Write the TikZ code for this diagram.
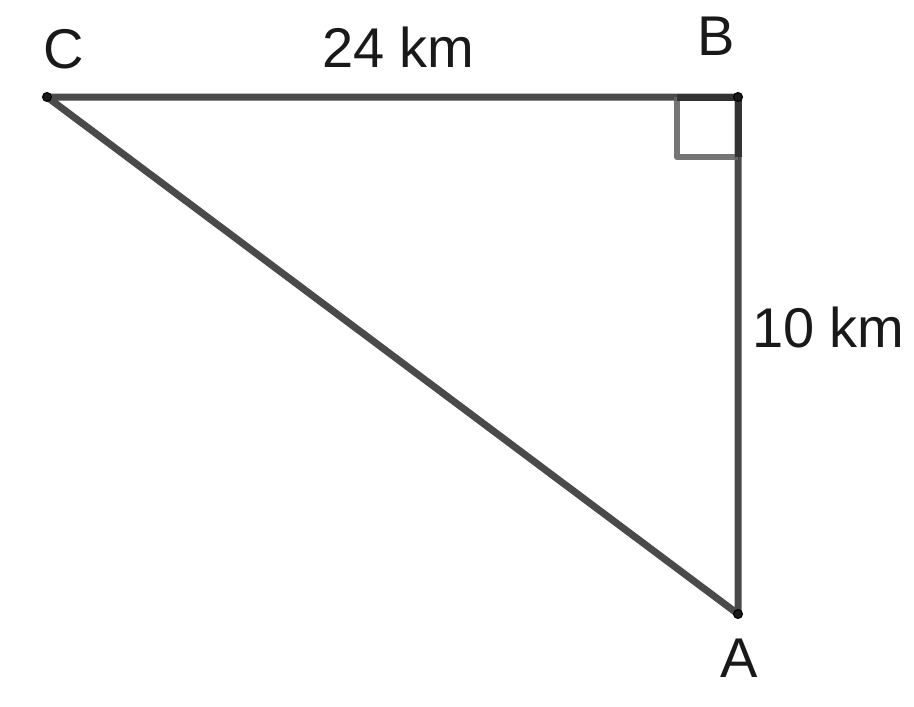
\documentclass[tikz,border=0pt]{standalone}
\usepackage{fontspec}
\setmainfont{Liberation Sans}
\begin{document}
\begin{tikzpicture}[x=1pt,y=-1pt,
  side/.style={line width=7pt,draw=black!71,line join=round,line cap=round},
  rightang/.style={line width=6.5pt,draw=black!60,opacity=0.9,line join=round},
  pt/.style={circle,fill=black!90,draw=black,line width=1pt,inner sep=0pt,minimum size=9pt},
  lbl/.style={inner sep=0pt,anchor=base west,font=\fontsize{56}{60}\selectfont,text=black!90}]
\useasboundingbox (0,0) rectangle (914,707);
\coordinate (C) at (47,97);
\coordinate (B) at (738,97);
\coordinate (A) at (738,614);
\draw[side] (C) -- (B) -- (A) -- cycle;
\coordinate (r1) at (677,97);
\coordinate (r2) at (677,157);
\coordinate (r3) at (738,157);
\draw[rightang] (r1) -- (r2) -- (r3);
\draw[line width=7pt,draw=black!80] (r1) -- (B) -- (r3);
\node[pt] (pC) at (C) {};
\node[pt] (pB) at (B) {};
\node[pt] (pA) at (A) {};
\node[lbl] (lC) at (43,68) {C};
\node[lbl] (lB) at (697,55) {B};
\node[lbl] (lA) at (720,677) {A};
\node[lbl] (l24) at (322,67) {24 km};
\node[lbl] (l10) at (752,347) {10 km};
\end{tikzpicture}
\end{document}
